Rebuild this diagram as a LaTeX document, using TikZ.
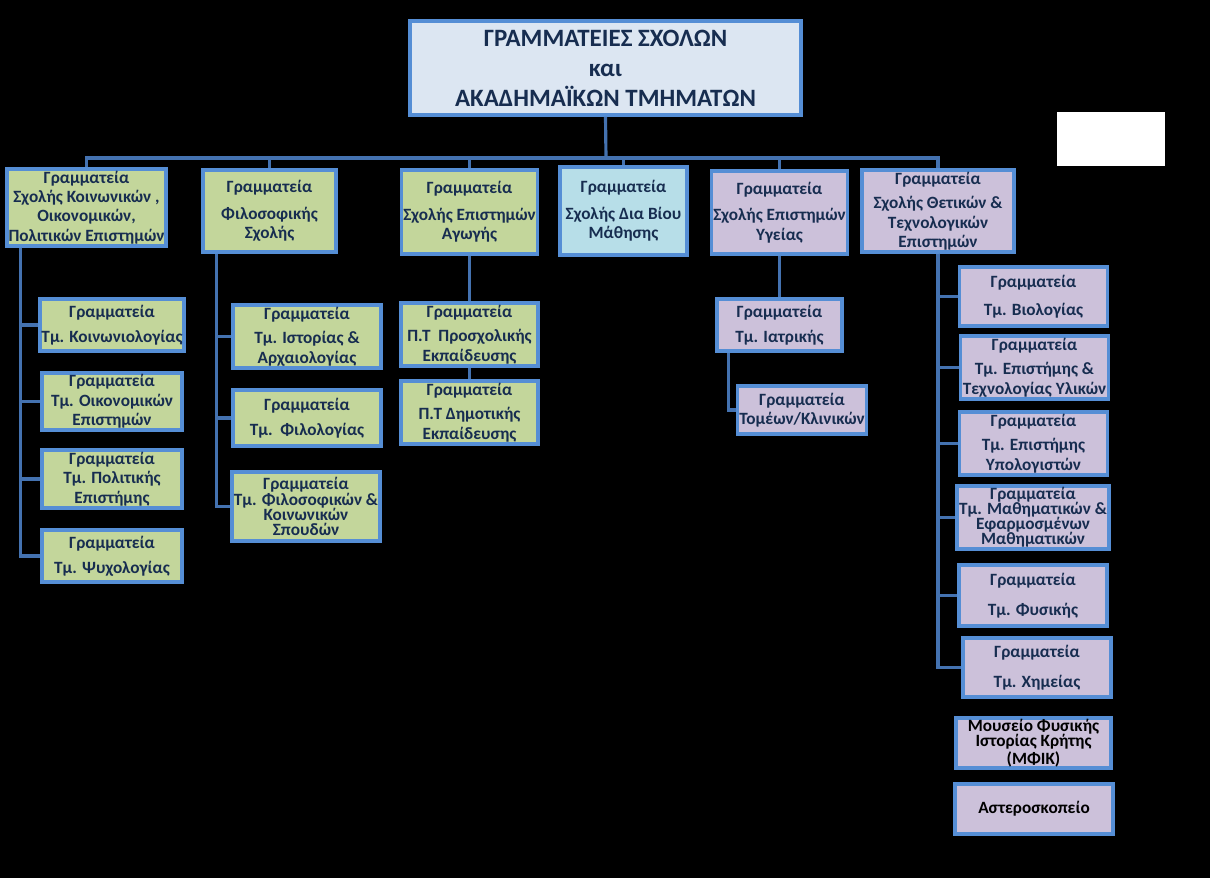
\documentclass[tikz,border=0pt]{standalone}
\usepackage{fontspec}
\setmainfont{Carlito}
\usetikzlibrary{calc}
\definecolor{ink}{RGB}{23,45,80}
\definecolor{edge}{RGB}{85,142,213}
\definecolor{wire}{RGB}{68,114,176}
\definecolor{lightgreen}{RGB}{195,214,155}
\definecolor{lightpurple}{RGB}{204,193,218}
\definecolor{lightcyan}{RGB}{183,222,232}
\definecolor{paleblue}{RGB}{220,230,242}

\begin{document}
\begin{tikzpicture}[x=0.02cm, y=-0.02cm,
  office/.style={draw=edge, line width=2.2pt, fill=#1, text=ink, align=center, inner sep=1pt, font=\bfseries\fontsize{9.8}{11}\selectfont},
  tight/.style={font=\bfseries\fontsize{9.8}{8.6}\selectfont},
  dept/.style={office=#1, minimum width=2.96cm, minimum height=1.18cm},
  link/.style={wire, line width=1.8pt}
]
  \fill[black] (0,0) rectangle (1210,878);

  % top
  \node[office=paleblue, minimum width=7.82cm, minimum height=1.88cm, font=\bfseries\fontsize{14.2}{17}\selectfont] (top) at (605.5,68)
    {ΓΡΑΜΜΑΤΕΙΕΣ ΣΧΟΛΩΝ\\ και\\ ΑΚΑΔΗΜΑΪΚΩΝ ΤΜΗΜΑΤΩΝ};
  \node[fill=white, minimum width=2.16cm, minimum height=1.08cm, inner sep=0pt] (blank) at (1111,139) {};

  % schools
  \node[office=lightgreen, minimum width=3.02cm, minimum height=1.5cm] (s1) at (86.5,207.5)
    {Γραμματεία\\ Σχολής Κοινωνικών ,\\ Οικονομικών,\\ Πολιτικών Επιστημών};
  \node[office=lightgreen, minimum width=2.66cm, minimum height=1.64cm] (s2) at (269.5,211)
    {Γραμματεία\\[4pt] Φιλοσοφικής\\ Σχολής};
  \node[office=lightgreen, minimum width=2.66cm, minimum height=1.68cm] (s3) at (469.5,212)
    {Γραμματεία\\[4pt] Σχολής Επιστημών\\ Αγωγής};
  \node[office=lightcyan, minimum width=2.54cm, minimum height=1.76cm] (s4) at (623.5,211)
    {Γραμματεία\\[4pt] Σχολής Δια Βίου\\ Μάθησης};
  \node[office=lightpurple, minimum width=2.66cm, minimum height=1.66cm] (s5) at (779.5,212.5)
    {Γραμματεία\\[4pt] Σχολής Επιστημών\\ Υγείας};
  \node[office=lightpurple, minimum width=3.04cm, minimum height=1.64cm] (s6) at (938,211)
    {Γραμματεία\\[3pt] Σχολής Θετικών \&\\ Τεχνολογικών\\ Επιστημών};

  % departments, social sciences
  \node[dept=lightgreen, minimum width=2.8cm, minimum height=1.04cm] (c11) at (112,325) {Γραμματεία\\[3pt] Τμ. Κοινωνιολογίας};
  \node[dept=lightgreen, minimum width=2.8cm, minimum height=1.02cm] (c12) at (112,401.5) {Γραμματεία\\ Τμ. Οικονομικών\\ Επιστημών};
  \node[dept=lightgreen, minimum width=2.8cm, minimum height=1.04cm] (c13) at (112,479) {Γραμματεία\\ Τμ. Πολιτικής\\ Επιστήμης};
  \node[dept=lightgreen, minimum width=2.8cm, minimum height=1.04cm] (c14) at (112,556) {Γραμματεία\\[3pt] Τμ. Ψυχολογίας};

  % philosophy
  \node[dept=lightgreen, minimum height=1.14cm] (c21) at (307,336.5) {Γραμματεία\\[3pt] Τμ. Ιστορίας \&\\ Αρχαιολογίας};
  \node[dept=lightgreen, minimum height=1.12cm] (c22) at (307,418) {Γραμματεία\\[3pt] Τμ.\ \ Φιλολογίας};
  \node[dept=lightgreen, tight, minimum width=2.92cm, minimum height=1.38cm] (c23) at (306,506.5) {Γραμματεία\\ Τμ. Φιλοσοφικών \&\\ Κοινωνικών\\ Σπουδών};

  % education
  \node[dept=lightgreen, minimum width=2.74cm, minimum height=1.14cm] (c31) at (469.5,334.5) {Γραμματεία\\[3pt] Π.Τ\ \ Προσχολικής\\ Εκπαίδευσης};
  \node[dept=lightgreen, minimum width=2.74cm, minimum height=1.14cm] (c32) at (469.5,412.5) {Γραμματεία\\[3pt] Π.Τ Δημοτικής\\ Εκπαίδευσης};

  % health
  \node[dept=lightpurple, minimum width=2.5cm, minimum height=1.04cm] (c51) at (779.5,325) {Γραμματεία\\[3pt] Τμ. Ιατρικής};
  \node[dept=lightpurple, minimum width=2.48cm, minimum height=0.96cm] (c52) at (802,410) {Γραμματεία\\ Τομέων/Κλινικών};

  % sciences
  \node[dept=lightpurple] (c61) at (1033.5,296.5) {Γραμματεία\\[5pt] Τμ. Βιολογίας};
  \node[dept=lightpurple] (c62) at (1034.5,367.5) {Γραμματεία\\[3pt] Τμ. Επιστήμης \&\\ Τεχνολογίας Υλικών};
  \node[dept=lightpurple] (c63) at (1033.5,443.5) {Γραμματεία\\[3pt] Τμ. Επιστήμης\\ Υπολογιστών};
  \node[dept=lightpurple, tight] (c64) at (1033,517.5) {Γραμματεία\\ Τμ. Μαθηματικών \&\\ Εφαρμοσμένων\\ Μαθηματικών};
  \node[dept=lightpurple, minimum height=1.22cm] (c65) at (1033,595.5) {Γραμματεία\\[6pt] Τμ. Φυσικής};
  \node[dept=lightpurple] (c66) at (1037,667.5) {Γραμματεία\\[6pt] Τμ. Χημείας};
  \node[dept=lightpurple, tight, text=black, minimum width=3.1cm, minimum height=1cm] (mus) at (1033.5,743) {Μουσείο Φυσικής\\ Ιστορίας Κρήτης\\ (ΜΦΙΚ)};
  \node[dept=lightpurple, text=black, minimum width=3.16cm, minimum height=1cm] (ast) at (1034,809) {Αστεροσκοπείο};

  % connectors
  \coordinate (bus) at (606,158);
  \draw[link] (top.south) -- (bus);
  \foreach \s in {s1,s2,s3,s4,s5,s6}
    \draw[link] (bus) -| (\s.north);

  \coordinate (s1r) at ($(s1.south west)+(16,0)$);
  \foreach \c in {c11,c12,c13,c14}
    \draw[link] (s1r) |- (\c.west);

  \coordinate (s2r) at ($(s2.south west)+(15,0)$);
  \foreach \c in {c21,c22,c23}
    \draw[link] (s2r) |- (\c.west);

  \draw[link] (s3.south) -- (c31.north);
  \draw[link] (c31.south) -- (c32.north);

  \draw[link] (s5.south) -- (c51.north);
  \coordinate (c51r) at ($(c51.south west)+(13,0)$);
  \draw[link] (c51r) |- (c52.west);

  \foreach \c in {c61,c62,c63,c64,c65,c66}
    \draw[link] (s6.south) |- (\c.west);
\end{tikzpicture}
\end{document}
